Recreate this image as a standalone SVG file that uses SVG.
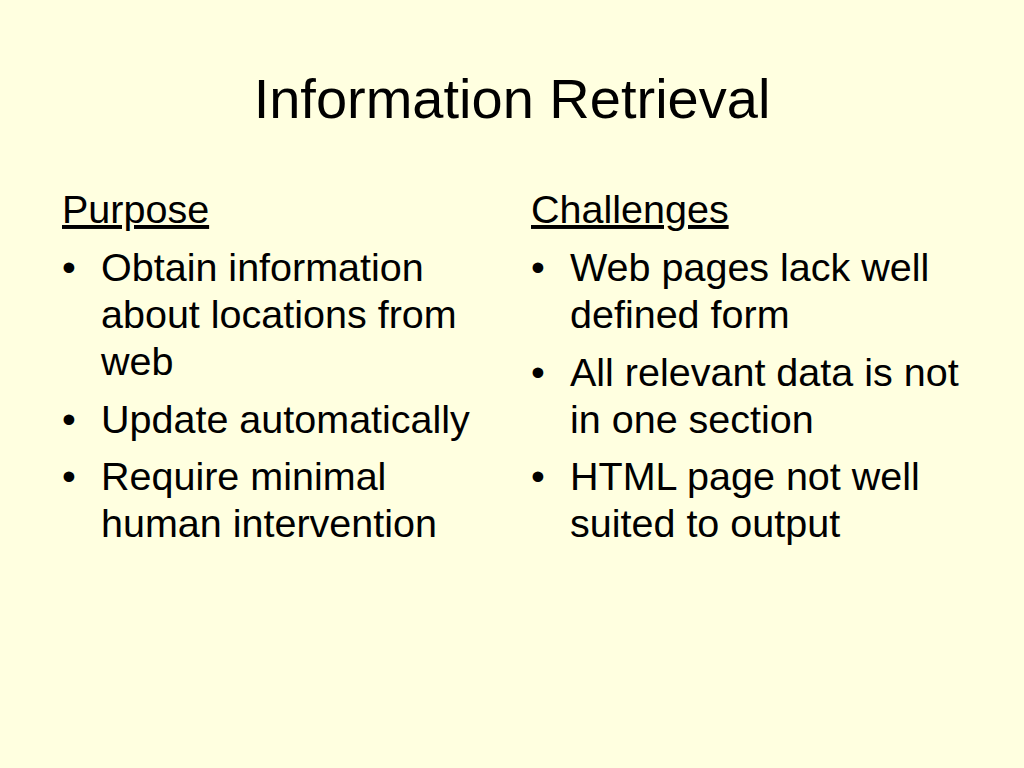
<svg xmlns="http://www.w3.org/2000/svg" width="1024" height="768" viewBox="0 0 1024 768">
<style>
text{font-family:"Liberation Sans",Arial,sans-serif;fill:#000}
.t{font-size:56px}
.b{font-size:39.5px}
</style>
<rect width="1024" height="768" fill="#FFFFE0"/>
<g id="title"><text class="t" x="512" y="118" text-anchor="middle">Information Retrieval</text></g>
<g id="purpose">
<text class="b" x="62" y="223" text-decoration="underline">Purpose</text>
<text class="b" x="62" y="281">•</text>
<text class="b" x="101" y="281">Obtain information</text>
<text class="b" x="101" y="328">about locations from</text>
<text class="b" x="101" y="375">web</text>
<text class="b" x="62" y="433">•</text>
<text class="b" x="101" y="433">Update automatically</text>
<text class="b" x="62" y="490">•</text>
<text class="b" x="101" y="490">Require minimal</text>
<text class="b" x="101" y="537">human intervention</text>
</g>
<g id="challenges">
<text class="b" x="531" y="223" text-decoration="underline">Challenges</text>
<text class="b" x="531" y="281">•</text>
<text class="b" x="570" y="281">Web pages lack well</text>
<text class="b" x="570" y="328">defined form</text>
<text class="b" x="531" y="386">•</text>
<text class="b" x="570" y="386">All relevant data is not</text>
<text class="b" x="570" y="433">in one section</text>
<text class="b" x="531" y="490">•</text>
<text class="b" x="570" y="490">HTML page not well</text>
<text class="b" x="570" y="537">suited to output</text>
</g>
</svg>
